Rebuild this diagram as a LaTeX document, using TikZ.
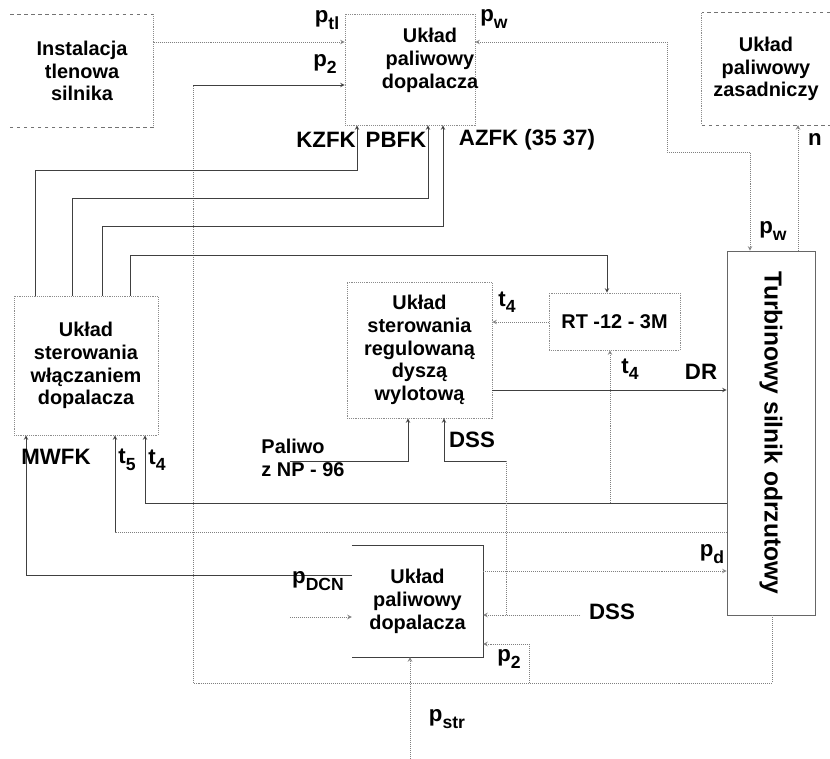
\documentclass[tikz,border=0pt]{standalone}
\usepackage{fontspec}
\setmainfont{Liberation Sans}
\usepackage{tikz}
\usetikzlibrary{arrows.meta,positioning,calc}
\newcommand{\idx}[2]{#1\raisebox{-0.55ex}{\fontsize{15}{15}\selectfont #2}}

\begin{document}
\begin{tikzpicture}[
        x=0.03cm, y=-0.03cm, >=stealth,
        txt/.style={font=\fontsize{17}{19.5}\selectfont\bfseries, align=center, inner sep=0pt},
        lab/.style={font=\fontsize{19}{19.5}\selectfont\bfseries, inner sep=0pt},
        blk/.style 2 args={minimum width=#1*0.03cm, minimum height=#2*0.03cm, inner sep=0pt},
        box/.style={draw=black!45, densely dotted, line width=0.6pt},
        frame/.style={draw=black!45, densely dotted, line width=0.6pt},
        dframe/.style={draw=black!55, dashed, line width=0.6pt},
        sig/.style={draw=black!75, line width=0.7pt},
        dsig/.style={draw=black!50, densely dotted, line width=0.7pt}
    ]
    \useasboundingbox (0,0) rectangle (830,759);
    % blocks
    \node[txt, blk={143}{113}] (inst) at (82,71) {Instalacja\\tlenowa\\silnika};
    \node[box, blk={130}{111}, label={[txt, xshift=0.6cm, yshift=0.28cm]center:Układ\\paliwowy\\dopalacza}] (ukd1) at (410,69.5) {};
    \node[txt, blk={128}{112}] (zas) at (766,69) {Układ\\paliwowy\\zasadniczy};
    \node[txt, box, blk={144}{139}] (lbox) at (86,365.5) {Układ\\sterowania\\włączaniem\\dopalacza};
    \node[txt, box, blk={145}{136}] (mbox) at (419.5,350) {Układ\\sterowania\\regulowaną\\dyszą\\wylotową};
    \node[txt, box, blk={131}{57}] (rt) at (614.5,321.5) {RT -12 - 3M};
    \node[draw=black!60, line width=0.6pt, blk={88}{364}, label={[txt, font=\fontsize{21}{22}\selectfont\bfseries, rotate=-90]center:Turbinowy silnik odrzutowy}] (eng) at (771,433) {};
    \node[txt, blk={131}{111}] (ukd2) at (417.5,601.5) {Układ\\paliwowy\\dopalacza};
    \draw[dframe] (inst.north west) -- (inst.north east);
    \draw[frame] (inst.north east) -- (inst.south east);
    \draw[dframe] (inst.south east) -- (inst.south west);
    \draw[dframe] (zas.north east) -- (zas.north west);
    \draw[frame] (zas.north west) -- (zas.south west);
    \draw[dframe] (zas.south west) -- (zas.south east);
    \draw[sig] (ukd2.north west) -- (ukd2.north east) -- (ukd2.south east) -- (ukd2.south west);

    % signals
    \draw[dsig,->] (inst.east |- 0,42) -- (ukd1.west |- 0,42);
    \draw[dsig] (eng.south -| 772,0) -- (772,683) -- (193,683) -- (193,85);
    \draw[sig,->] (193,85) -- (ukd1.west |- 0,85);
    \draw[dsig,->] (529,683) -- (529,644) -- (ukd2.east |- 0,644);
    \draw[dsig,<->] (ukd1.east |- 0,42) -- (667,42) -- (667,152) -- (750,152) -- (eng.north -| 750,0);
    \draw[dsig,->] (eng.north -| 798,0) -- (zas.south -| 798,0);
    \draw[sig,->] (lbox.north -| 35,0) -- (35,170) -- (357,170) -- (ukd1.south -| 357,0);
    \draw[sig,->] (lbox.north -| 72,0) -- (72,198) -- (428,198) -- (ukd1.south -| 428,0);
    \draw[sig,->] (lbox.north -| 102,0) -- (102,226) -- (443,226) -- (ukd1.south -| 443,0);
    \draw[sig,->] (lbox.north -| 130,0) -- (130,255) -- (607,255) -- (rt.north -| 607,0);
    \draw[dsig,->] (rt.west |- 0,322) -- (mbox.east |- 0,322);
    \draw[sig,->] (mbox.east |- 0,390) -- (eng.west |- 0,390);
    \draw[sig,->] (eng.west |- 0,503) -- (145,503) -- (lbox.south -| 145,0);
    \draw[dsig,->] (610,503) -- (rt.south -| 610,0);
    \draw[dsig] (eng.west |- 0,532) -- (115,532);
    \draw[sig,->] (115,532) -- (lbox.south -| 115,0);
    \draw[sig,->] (ukd2.west |- 0,575) -- (26,575) -- (lbox.south -| 26,0);
    \draw[dsig,->] (ukd2.east |- 0,571) -- (eng.west |- 0,571);
    \coordinate (pal) at (290,461);
    \draw[sig,->] (pal) -| (mbox.south -| 408,0);
    \draw[sig,->] (506,461) -| (mbox.south -| 444,0);
    \draw[dsig] (506,461) -- (506,615);
    \draw[dsig,->] (580,615) -- (ukd2.east |- 0,615);
    \coordinate (dcn) at (290,617);
    \draw[dsig,->] (dcn) -- (ukd2.west |- 0,617);
    \coordinate (str) at (410,759);
    \draw[dsig,->] (str) -- (ukd2.south -| 410,0);

    % labels
    \node[lab] (lptl) at (327,20) {\idx{p}{tl}};
    \node[lab] (lp2a) at (325,64) {\idx{p}{2}};
    \node[lab] (lpwa) at (494,19) {\idx{p}{w}};
    \node[lab] (lkzfk) at (326,140) {KZFK};
    \node[lab] (lpbfk) at (396,140) {PBFK};
    \node[lab] (lazfk) at (527,140) {AZFK (35 37)};
    \node[lab] (ln) at (815,140) {n};
    \node[lab] (lpwb) at (773,231) {\idx{p}{w}};
    \node[lab] (lt4a) at (507,302) {\idx{t}{4}};
    \node[lab] (lt4b) at (630,369) {\idx{t}{4}};
    \node[lab] (ldr) at (701,372) {DR};
    \node[txt, align=left] (lpal) at (303,458) {Paliwo\\z NP - 96};
    \node[lab] (ldssa) at (472,440) {DSS};
    \node[lab] (lmwfk) at (56,457) {MWFK};
    \node[lab] (lt5) at (127,460) {\idx{t}{5}};
    \node[lab] (lt4c) at (157,460) {\idx{t}{4}};
    \node[lab] (lpd) at (712,554) {\idx{p}{d}};
    \node[lab] (lpdcn) at (318,581) {\idx{p}{DCN}};
    \node[lab] (ldssb) at (612,612) {DSS};
    \node[lab] (lp2b) at (509,659) {\idx{p}{2}};
    \node[lab] (lpstr) at (447,719) {\idx{p}{str}};
\end{tikzpicture}
\end{document}
